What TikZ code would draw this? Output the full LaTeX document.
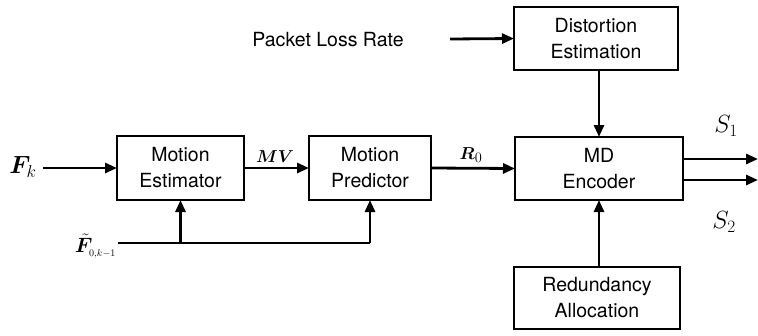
\documentclass[tikz,border=0pt]{standalone}
\usepackage{fontspec}
\usepackage{amsmath}
\usepackage{bm}
\setsansfont{TeX Gyre Heros}
\usetikzlibrary{arrows.meta}
\begin{document}
\begin{tikzpicture}[x=1pt,y=-1pt,
  blk/.style={draw,line width=2.8pt,inner sep=0pt,outer sep=0pt,align=center,
    font=\sffamily\fontsize{19.5}{26}\selectfont},
  conn/.style={line width=2.8pt,-{Triangle[length=12pt,width=10pt]}},
  plain/.style={line width=2.8pt},
  lbl/.style={inner sep=0pt,font=\fontsize{22}{26}\selectfont}]
\useasboundingbox (0,0) rectangle (758,335);
\node[blk,minimum width=127pt,minimum height=64pt] (me) at (180.5,168) {Motion\\Estimator};
\node[blk,minimum width=122pt,minimum height=64pt] (mp) at (370,168) {Motion\\Predictor};
\node[blk,minimum width=168pt,minimum height=63pt] (md) at (599,168.5) {MD\\Encoder};
\node[blk,minimum width=164pt,minimum height=63pt] (de) at (596,38.5) {Distortion\\Estimation};
\node[blk,minimum width=166pt,minimum height=62pt] (ra) at (597,298) {Redundancy\\Allocation};
\node[inner sep=0pt,font=\sffamily\fontsize{19.5}{22}\selectfont] (plr) at (328,40) {Packet Loss Rate};
\coordinate (plrs) at (450,39);
\node[lbl,font=\fontsize{24}{28}\selectfont] (fk) at (23,167) {$\bm{F}_{k}$};
\coordinate (fks) at (43,168);
\node[lbl,font=\fontsize{20}{24}\selectfont,anchor=east] (fb) at (116,246) {$\tilde{\bm{F}}_{\scriptscriptstyle 0,k-1}$};
\coordinate (fbs) at (118,243);
\coordinate (fbe) at (370,243);
\node[lbl,font=\fontsize{19}{22}\selectfont] (mv) at (275,157) {$\bm{MV}$};
\node[lbl,font=\fontsize{19}{22}\selectfont] (r0) at (471,155) {$\bm{R}_{0}$};
\node[lbl,font=\fontsize{25}{28}\selectfont] (s1) at (726,126) {$S_{1}$};
\node[lbl,font=\fontsize{25}{28}\selectfont] (s2) at (724,222) {$S_{2}$};
\coordinate (o1) at (758,159);
\coordinate (o2) at (758,180);
\draw[conn] (plrs) -- (de.west);
\draw[conn] (fks) -- (me.west);
\draw[conn] (me.east) -- (mp.west);
\draw[conn] (mp.east) -- (md.west);
\draw[conn] (md.north |- de.south) -- (md.north);
\draw[conn] (md.south |- ra.north) -- (md.south);
\draw[plain] (fbs) -- (fbe);
\draw[conn] (fbe) -- (mp.south);
\draw[conn] (me.south |- fbs) -- (me.south);
\draw[conn] (md.east |- o1) -- (o1);
\draw[conn] (md.east |- o2) -- (o2);
\end{tikzpicture}
\end{document}
